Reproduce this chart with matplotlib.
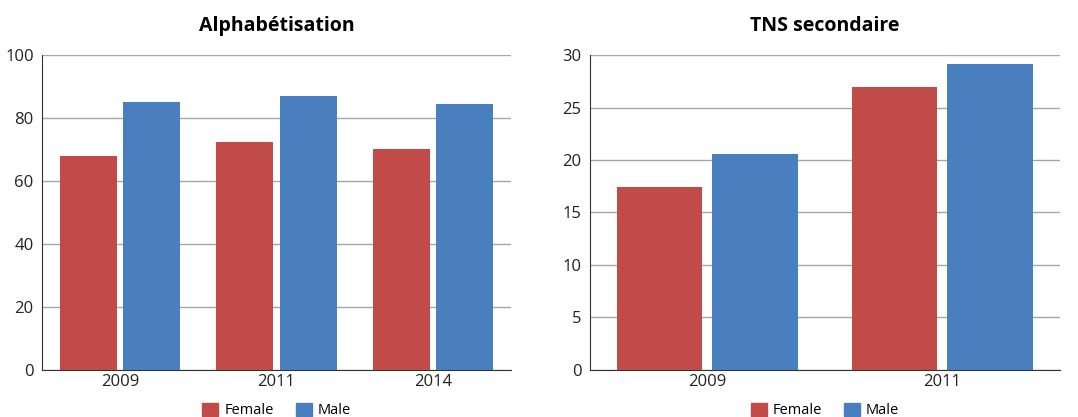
import matplotlib.pyplot as plt
import numpy as np
from matplotlib.patches import Patch

plt.rcParams['font.family'] = ['Open Sans', 'DejaVu Sans']

# Données
years_alpha = ['2009', '2011', '2014']
female_alpha = [68.0, 72.4, 70.2]
male_alpha = [85.1, 87.0, 84.4]

years_tns = ['2009', '2011']
female_tns = [17.4, 27.0]
male_tns = [20.6, 29.1]

red = '#C04B49'
blue = '#4A7FBF'

fig = plt.figure(figsize=(10.78, 4.17), dpi=100)
ax1 = fig.add_axes([0.039, 0.113, 0.435, 0.755])
ax2 = fig.add_axes([0.547, 0.113, 0.436, 0.755])


def draw(ax, cats, fem, mal, ymax, step, title):
    x = np.arange(len(cats))
    w = 0.365
    gap = 0.02
    ax.bar(x - w / 2 - gap, fem, w, color=red, zorder=3)
    ax.bar(x + w / 2 + gap, mal, w, color=blue, zorder=3)
    ax.set_xlim(-0.5, len(cats) - 0.5)
    ax.set_ylim(0, ymax)
    ax.set_yticks(np.arange(0, ymax + 1, step))
    ax.set_xticks(x)
    ax.set_xticklabels(cats)
    ax.yaxis.grid(True, color='#A6A6A6', lw=1, zorder=0)
    for s in ['top', 'right']:
        ax.spines[s].set_visible(False)
    ax.spines['left'].set_color('#333333')
    ax.spines['bottom'].set_color('#333333')
    ax.tick_params(axis='both', length=0, labelsize=12, colors='#222222')
    ax.tick_params(axis='y', pad=6)
    ax.tick_params(axis='x', pad=3)
    ax.set_title(title, fontsize=14, fontweight='bold', pad=17)
    handles = [Patch(color=red, label='Female'), Patch(color=blue, label='Male')]
    ax.legend(handles=handles, loc='upper center', bbox_to_anchor=(0.5, -0.072),
              ncol=2, frameon=False, fontsize=10.5, handlelength=1.1,
              handleheight=1.0, handletextpad=0.4, columnspacing=1.5,
              borderpad=0.2)


draw(ax1, years_alpha, female_alpha, male_alpha, 100, 20, 'Alphabétisation')
draw(ax2, years_tns, female_tns, male_tns, 30, 5, 'TNS secondaire')

plt.savefig('out.png', dpi=100)
